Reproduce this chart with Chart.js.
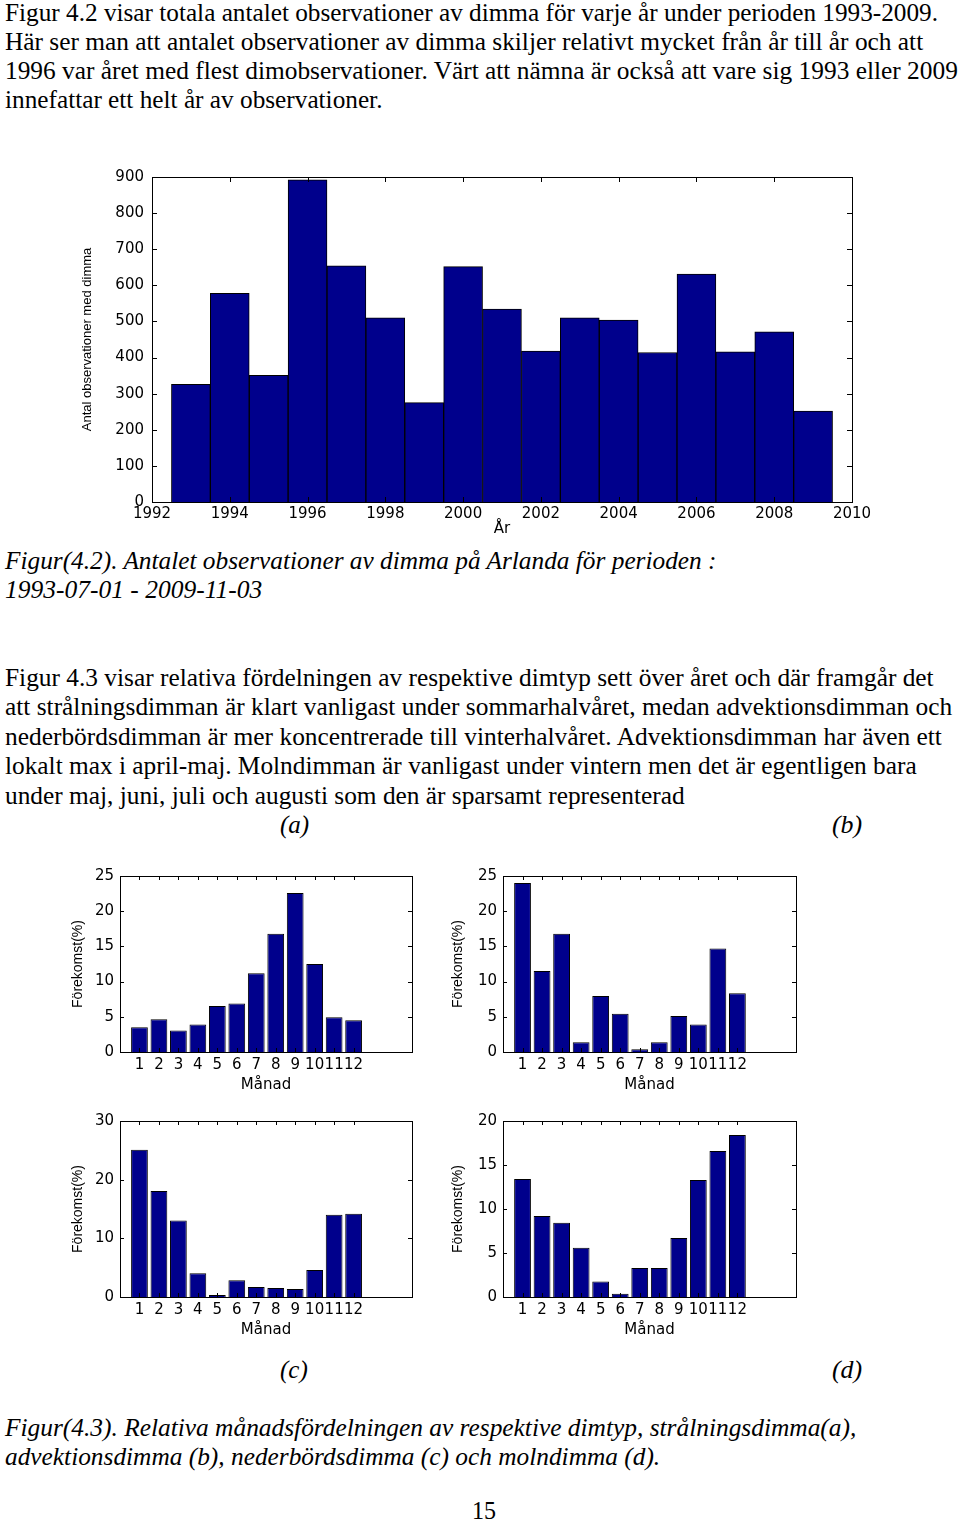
<!DOCTYPE html>
<html>
<head>
<meta charset="utf-8">
<script src="https://cdn.jsdelivr.net/npm/chart.js@4.4.1/dist/chart.umd.min.js"></script>
<style>
  body { margin: 0; background: #fff; width: 960px; height: 1521px; position: relative; overflow: hidden; }
  .ln { position: absolute; white-space: nowrap; font-family: 'Liberation Serif', 'Times New Roman', serif;
        font-size: 25px; line-height: 29px; color: #000; transform-origin: 0 0; }
  .it { font-style: italic; }
  canvas { position: absolute; }
</style>
</head>
<body>

<div class="ln" data-x="5" data-b="21" data-r="938">Figur 4.2 visar totala antalet observationer av dimma för varje år under perioden 1993-2009.</div>
<div class="ln" data-x="5" data-b="50" data-r="923">Här ser man att antalet observationer av dimma skiljer relativt mycket från år till år och att</div>
<div class="ln" data-x="5" data-b="79" data-r="958">1996 var året med flest dimobservationer. Värt att nämna är också att vare sig 1993 eller 2009</div>
<div class="ln" data-x="5" data-b="108" data-r="382">innefattar ett helt år av observationer.</div>

<canvas id="cYear" width="820" height="380" style="left:70px;top:160px"></canvas>

<div class="ln it" data-x="5" data-b="569" data-r="716">Figur(4.2). Antalet observationer av dimma på Arlanda för perioden :</div>
<div class="ln it" data-x="5" data-b="598" data-r="262">1993-07-01 - 2009-11-03</div>

<div class="ln" data-x="5" data-b="686" data-r="934">Figur 4.3 visar relativa fördelningen av respektive dimtyp sett över året och där framgår det</div>
<div class="ln" data-x="5" data-b="715" data-r="952">att strålningsdimman är klart vanligast under sommarhalvåret, medan advektionsdimman och</div>
<div class="ln" data-x="5" data-b="745" data-r="942">nederbördsdimman är mer koncentrerade till vinterhalvåret. Advektionsdimman har även ett</div>
<div class="ln" data-x="5" data-b="774" data-r="917">lokalt max i april-maj. Molndimman är vanligast under vintern men det är egentligen bara</div>
<div class="ln" data-x="5" data-b="804" data-r="685">under maj, juni, juli och augusti som den är sparsamt representerad</div>
<div class="ln it" data-x="280" data-b="833" data-r="309">(a)</div>
<div class="ln it" data-x="832" data-b="833" data-r="862">(b)</div>

<canvas id="cA" width="370" height="240" style="left:60px;top:860px"></canvas>
<canvas id="cB" width="370" height="240" style="left:440px;top:860px"></canvas>
<canvas id="cC" width="370" height="240" style="left:60px;top:1105px"></canvas>
<canvas id="cD" width="370" height="240" style="left:440px;top:1105px"></canvas>

<div class="ln it" data-x="280" data-b="1378" data-r="308">(c)</div>
<div class="ln it" data-x="832" data-b="1378" data-r="862">(d)</div>
<div class="ln it" data-x="5" data-b="1436" data-r="856">Figur(4.3). Relativa månadsfördelningen av respektive dimtyp, strålningsdimma(a),</div>
<div class="ln it" data-x="5" data-b="1465" data-r="660">advektionsdimma (b), nederbördsdimma (c) och molndimma (d).</div>
<div class="ln" data-x="472" data-b="1519" data-r="496">15</div>

<script>
// Fog observations per year, Arlanda
const years = [1993, 1994, 1995, 1996, 1997, 1998, 1999, 2000, 2001, 2002, 2003, 2004, 2005, 2006, 2007, 2008, 2009];
const obsCount = [326, 578, 351, 892, 654, 510, 275, 652, 534, 418, 510, 504, 414, 631, 416, 471, 252];
const yearTicks = [1992, 1994, 1996, 1998, 2000, 2002, 2004, 2006, 2008, 2010];
const countTicks = [0, 100, 200, 300, 400, 500, 600, 700, 800, 900];

// Monthly share (%) per fog type
const months = [1, 2, 3, 4, 5, 6, 7, 8, 9, 10, 11, 12];
const stralning = [3.5, 4.65, 3.05, 3.9, 6.55, 6.9, 11.2, 16.8, 22.6, 12.5, 4.95, 4.5];
const advektion = [24.0, 11.5, 16.8, 1.4, 7.95, 5.45, 0.38, 1.4, 5.1, 3.9, 14.7, 8.35];
const nederbord = [25.1, 18.05, 13.05, 4.05, 0.35, 2.85, 1.7, 1.55, 1.35, 4.6, 14.0, 14.2];
const moln = [13.4, 9.2, 8.45, 5.6, 1.75, 0.38, 3.3, 3.3, 6.7, 13.3, 16.6, 18.4];
const pctTicks25 = [0, 5, 10, 15, 20, 25];
const pctTicks30 = [0, 10, 20, 30];
const pctTicks20 = [0, 5, 10, 15, 20];

// squeeze each text line to the width it has on the page
document.querySelectorAll('.ln').forEach(el => {
    const x = +el.dataset.x, r = +el.dataset.r, b = +el.dataset.b;
    el.style.left = x + 'px';
    el.style.top = (b - 23) + 'px';
    const w = el.offsetWidth;
    el.style.transform = `scaleX(${(r - x) / w})`;
});

const barFill = '#00008c';
const tickFont = { family: "'DejaVu Sans', sans-serif", size: 15 };
const narrowFont = { family: "'Liberation Sans Narrow', 'Liberation Sans', Arial, sans-serif", size: 14 };

// MATLAB style box with inward tick marks on all four sides
const matlabBox = {
    id: 'matlabBox',
    afterDatasetsDraw(chart, args, opts) {
        const { ctx, chartArea: a, scales: { x, y } } = chart;
        const len = opts.len || 5;
        ctx.save();
        ctx.strokeStyle = '#000';
        ctx.lineWidth = 1;
        ctx.beginPath();
        x.ticks.forEach(t => {
            const px = Math.round(x.getPixelForValue(t.value)) + 0.5;
            ctx.moveTo(px, a.bottom); ctx.lineTo(px, a.bottom - len);
            ctx.moveTo(px, a.top); ctx.lineTo(px, a.top + len);
        });
        y.ticks.forEach(t => {
            const py = Math.round(y.getPixelForValue(t.value)) + 0.5;
            ctx.moveTo(a.left, py); ctx.lineTo(a.left + len, py);
            ctx.moveTo(a.right, py); ctx.lineTo(a.right - len, py);
        });
        ctx.stroke();
        ctx.strokeRect(Math.round(a.left) + 0.5, Math.round(a.top) + 0.5,
            Math.round(a.right - a.left), Math.round(a.bottom - a.top));
        ctx.restore();
    }
};

function axisBase(tickList, fitFn, title, titleFont, titlePad) {
    return {
        type: 'linear',
        offset: false,
        afterBuildTicks: s => { s.ticks = tickList.map(v => ({ value: v })); },
        afterFit: fitFn,
        grid: { display: false, drawTicks: false },
        border: { display: false },
        ticks: { color: '#000', font: tickFont, autoSkip: false, maxRotation: 0, callback: v => String(v) },
        title: { display: true, text: title, color: '#000', font: titleFont, padding: titlePad }
    };
}

// Figure 4.2: yearly counts
const xYear = axisBase(yearTicks, s => { s.height = 38; }, 'År', tickFont, { top: 0, bottom: 2 });
xYear.min = 1992; xYear.max = 2010;
xYear.ticks.padding = 3;
const yCount = axisBase(countTicks, s => { s.width = 82; }, 'Antal observationer med dimma',
    { family: narrowFont.family, size: 13 }, { top: 10, bottom: 0 });
yCount.min = 0; yCount.max = 900;
yCount.ticks.padding = 8;

new Chart(document.getElementById('cYear'), {
    type: 'bar',
    data: {
        datasets: [{
            data: years.map((yr, i) => ({ x: yr, y: obsCount[i] })),
            backgroundColor: barFill,
            borderColor: '#000',
            borderWidth: 1,
            barPercentage: 1,
            categoryPercentage: 1
        }]
    },
    options: {
        responsive: false,
        animation: false,
        devicePixelRatio: 1,
        layout: { padding: { top: 13, right: 38, left: 0, bottom: 0 } },
        plugins: { legend: { display: false }, tooltip: { enabled: false }, matlabBox: { len: 5 } },
        scales: { x: xYear, y: yCount }
    },
    plugins: [matlabBox]
});

// Figure 4.3: monthly distributions
function monthChart(id, values, yTicks, yWidth, rightPad) {
    const xs = axisBase(months, s => { s.height = 48; }, 'Månad', tickFont, { top: 0, bottom: 6 });
    xs.min = 0; xs.max = 15;
    xs.ticks.padding = 4;
    const ys = axisBase(yTicks, s => { s.width = yWidth; }, 'Förekomst(%)', narrowFont, { top: 10, bottom: 0 });
    ys.min = 0; ys.max = yTicks[yTicks.length - 1];
    ys.ticks.padding = 6;
    new Chart(document.getElementById(id), {
        type: 'bar',
        data: {
            datasets: [{
                data: months.map((m, i) => ({ x: m, y: values[i] })),
                backgroundColor: barFill,
                borderColor: '#000',
                borderWidth: 1,
                barPercentage: 0.86,
                categoryPercentage: 1
            }]
        },
        options: {
            responsive: false,
            animation: false,
            devicePixelRatio: 1,
            layout: { padding: { top: 16, right: rightPad, left: 0, bottom: 0 } },
            plugins: { legend: { display: false }, tooltip: { enabled: false }, matlabBox: { len: 4 } },
            scales: { x: xs, y: ys }
        },
        plugins: [matlabBox]
    });
}

monthChart('cA', stralning, pctTicks25, 60, 18);
monthChart('cB', advektion, pctTicks25, 63, 14);
monthChart('cC', nederbord, pctTicks30, 60, 18);
monthChart('cD', moln, pctTicks20, 63, 14);
</script>
</body>
</html>
